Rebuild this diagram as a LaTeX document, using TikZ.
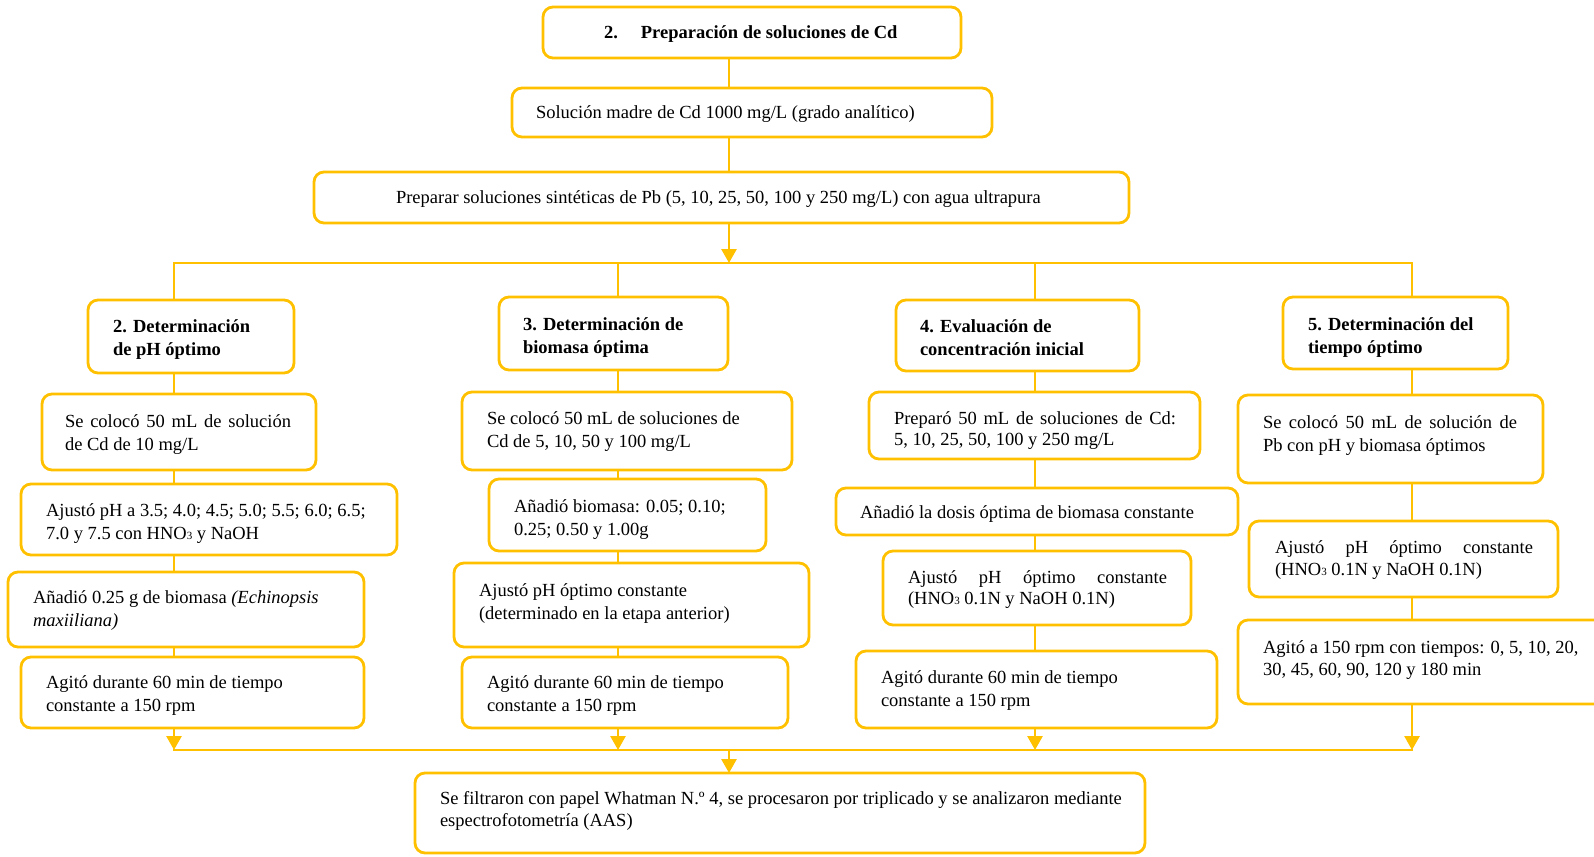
\documentclass[tikz,border=0pt]{standalone}
\usepackage{fontspec}
\setmainfont{Liberation Serif}
\usetikzlibrary{arrows.meta}
\definecolor{gold}{HTML}{FFC000}
\newcommand\jl[2]{\makebox[#1pt][s]{#2}}
\newcommand\sbt{\raisebox{-0.5pt}{\fontsize{11}{11}\selectfont 3}}
\newcommand\bx[5]{\node[box,minimum width={#4-#2},minimum height={#5-#3}] (#1) at ({(#2+#4)/2},{(#3+#5)/2}) {};}
\newcommand\tx[4]{\node[txt] (#1) at (#2,#3) {\parbox[t]{720pt}{#4}};}
\begin{document}
\begin{tikzpicture}[x=1pt,y=-1pt,
  box/.style={draw=gold,line width=2.8pt,rounded corners=10pt,inner sep=0pt,outer sep=0pt},
  txt/.style={anchor=base west,inner sep=0pt,outer sep=0pt,font=\fontsize{18.5}{23}\selectfont},
  link/.style={draw=gold,line width=2.8pt},
  arr/.style={link,-{Triangle[width=15pt,length=14pt]}}]
\useasboundingbox (0,0) rectangle (1594,856);
% boxes
\bx{top}{543}{7}{961}{58}
\bx{madre}{512}{88}{992}{137}
\bx{prep}{314}{172}{1129}{223}
% column 1
\bx{h1}{88}{300}{294}{373}
\bx{a1}{42}{394}{316}{470}
\bx{b1}{21}{484}{397}{555}
\bx{c1}{8}{572}{364}{647}
\bx{d1}{21}{657}{364}{728}
% column 2
\bx{h2}{499}{297}{728}{370}
\bx{a2}{462}{392}{792}{470}
\bx{b2}{489}{479}{766}{551}
\bx{c2}{454}{563}{809}{647}
\bx{d2}{462}{657}{788}{728}
% column 3
\bx{h3}{896}{300}{1139}{371}
\bx{a3}{869}{392}{1200}{459}
\bx{b3}{836}{488}{1238}{535}
\bx{c3}{883}{551}{1191}{625}
\bx{d3}{856}{651}{1217}{728}
% column 4
\bx{h4}{1283}{297}{1508}{369}
\bx{a4}{1238}{395}{1543}{483}
\bx{b4}{1249}{521}{1558}{597}
\bx{c4}{1238}{620}{1612}{704}
% bottom
\bx{bot}{415}{773}{1145}{853}
% texts
\tx{ttop}{604}{39}{\textbf{2.\hspace{23pt}Preparación de soluciones de Cd}}
\tx{tmadre}{536}{119}{Solución madre de Cd 1000 mg/L (grado analítico)}
\tx{tprep}{396}{203}{Preparar soluciones sintéticas de Pb (5, 10, 25, 50, 100 y 250 mg/L) con agua ultrapura}
\tx{th1}{113}{332}{\textbf{2. Determinación}\\\textbf{de pH óptimo}}
\tx{ta1}{65}{427}{\jl{226}{Se colocó 50 mL de solución}\\de Cd de 10 mg/L}
\tx{tb1}{46}{516}{Ajustó pH a 3.5; 4.0; 4.5; 5.0; 5.5; 6.0; 6.5;\\7.0 y 7.5 con HNO\sbt{} y NaOH}
\tx{tc1}{33}{603}{Añadió 0.25 g de biomasa \textit{(Echinopsis}\\\textit{maxiiliana)}}
\tx{td1}{46}{688}{Agitó durante 60 min de tiempo\\constante a 150 rpm}
\tx{th2}{523}{330}{\textbf{3. Determinación de}\\\textbf{biomasa óptima}}
\tx{ta2}{487}{424}{Se colocó 50 mL de soluciones de\\Cd de 5, 10, 50 y 100 mg/L}
\tx{tb2}{514}{512}{Añadió biomasa: 0.05; 0.10;\\0.25; 0.50 y 1.00g}
\tx{tc2}{479}{596}{Ajustó pH óptimo constante\\(determinado en la etapa anterior)}
\tx{td2}{487}{688}{Agitó durante 60 min de tiempo\\constante a 150 rpm}
\tx{th3}{920}{332}{\textbf{4. Evaluación de}\\\textbf{concentración inicial}}
\tx{ta3}{894}{424}{\jl{282}{Preparó 50 mL de soluciones de Cd:}\\[-2pt]5, 10, 25, 50, 100 y 250 mg/L}
\tx{tb3}{860}{518}{Añadió la dosis óptima de biomasa constante}
\tx{tc3}{908}{583}{\jl{259}{Ajustó pH óptimo constante}\\[-2pt](HNO\sbt{} 0.1N y NaOH 0.1N)}
\tx{td3}{881}{683}{Agitó durante 60 min de tiempo\\constante a 150 rpm}
\tx{th4}{1308}{330}{\textbf{5. Determinación del}\\\textbf{tiempo óptimo}}
\tx{ta4}{1263}{428}{\jl{254}{Se colocó 50 mL de solución de}\\Pb con pH y biomasa óptimos}
\tx{tb4}{1275}{553}{\jl{258}{Ajustó pH óptimo constante}\\[-1pt](HNO\sbt{} 0.1N y NaOH 0.1N)}
\tx{tc4}{1263}{653}{Agitó a 150 rpm con tiempos: 0, 5, 10, 20,\\[-1pt]30, 45, 60, 90, 120 y 180 min}
\tx{tbot}{440}{804}{Se filtraron con papel Whatman N.º 4, se procesaron por triplicado y se analizaron mediante\\[-1pt]espectrofotometría (AAS)}
% coordinates
\coordinate (sp) at (729,0);
\coordinate (bus1) at (729,263);
\coordinate (busL) at (174,263);
\coordinate (busR) at (1412,263);
\coordinate (k2) at (618,263);
\coordinate (k3) at (1035,263);
\coordinate (bus2) at (729,750);
\coordinate (bus2L) at (174,750);
\coordinate (bus2R) at (1412,750);
% connectors
\draw[link] (top.south -| sp) -- (madre.north -| sp);
\draw[link] (madre.south -| sp) -- (prep.north -| sp);
\draw[arr] (prep.south -| sp) -- (bus1);
\draw[link,line cap=rect] (busL) -- (busR);
% column 1
\draw[link] (busL) -- (h1.north -| busL);
\draw[link] (h1.south -| busL) -- (a1.north -| busL);
\draw[link] (a1.south -| busL) -- (b1.north -| busL);
\draw[link] (b1.south -| busL) -- (c1.north -| busL);
\draw[link] (c1.south -| busL) -- (d1.north -| busL);
\draw[arr] (d1.south -| busL) -- (bus2L);
% column 2
\draw[link] (k2) -- (h2.north -| k2);
\draw[link] (h2.south -| k2) -- (a2.north -| k2);
\draw[link] (a2.south -| k2) -- (b2.north -| k2);
\draw[link] (b2.south -| k2) -- (c2.north -| k2);
\draw[link] (c2.south -| k2) -- (d2.north -| k2);
\draw[arr] (d2.south -| k2) -- (bus2 -| k2);
% column 3
\draw[link] (k3) -- (h3.north -| k3);
\draw[link] (h3.south -| k3) -- (a3.north -| k3);
\draw[link] (a3.south -| k3) -- (b3.north -| k3);
\draw[link] (b3.south -| k3) -- (c3.north -| k3);
\draw[link] (c3.south -| k3) -- (d3.north -| k3);
\draw[arr] (d3.south -| k3) -- (bus2 -| k3);
% column 4
\draw[link] (busR) -- (h4.north -| busR);
\draw[link] (h4.south -| busR) -- (a4.north -| busR);
\draw[link] (a4.south -| busR) -- (b4.north -| busR);
\draw[link] (b4.south -| busR) -- (c4.north -| busR);
\draw[arr] (c4.south -| busR) -- (bus2R);
% bottom
\draw[link,line cap=rect] (bus2L) -- (bus2R);
\draw[arr] (bus2) -- (bot.north -| bus2);
\end{tikzpicture}
\end{document}
